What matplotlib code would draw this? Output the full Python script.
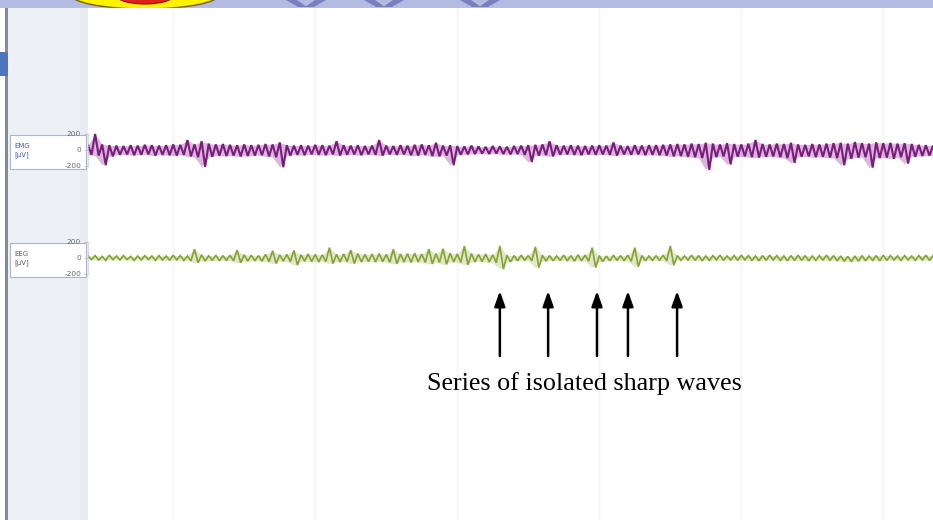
import numpy as np
import matplotlib
matplotlib.use("Agg")
import matplotlib.pyplot as plt
from matplotlib.patches import Rectangle, Ellipse, Polygon

# ---------------- data (µV, one value per 0.25 s) -------------
sample_step = 0.25  # s
emg_hi = [60, 200, 70, 60, 55, 50, 60, 55, 65, 60,
          55, 60, 70, 65, 125, 70, 110, 80, 70, 75,
          65, 60, 70, 60, 65, 75, 70, 95, 60, 55,
          60, 55, 65, 60, 55, 110, 60, 55, 60, 50,
          55, 125, 55, 50, 60, 55, 65, 70, 60, 90,
          55, 60, 50, 45, 55, 45, 40, 50, 45, 40,
          50, 55, 60, 65, 70, 110, 60, 55, 60, 55,
          50, 55, 60, 55, 95, 55, 50, 60, 55, 60,
          60, 65, 70, 75, 70, 80, 75, 90, 80, 70,
          85, 75, 70, 80, 125, 75, 70, 80, 75, 90,
          70, 65, 75, 70, 80, 85, 90, 80, 100, 85,
          80, 95, 85, 90, 80, 85, 75, 65, 60, 55]
emg_lo = [-60, -70, -190, -80, -60, -55, -65, -60, -55, -70,
          -60, -65, -70, -60, -80, -90, -210, -85, -70, -75,
          -70, -80, -75, -70, -65, -80, -90, -215, -70, -60,
          -65, -55, -60, -65, -55, -70, -60, -55, -65, -55,
          -60, -70, -55, -60, -55, -65, -70, -60, -75, -80,
          -70, -190, -60, -55, -50, -45, -50, -45, -50, -55,
          -50, -60, -150, -70, -65, -80, -60, -55, -60, -65,
          -55, -60, -55, -60, -70, -55, -60, -55, -65, -60,
          -65, -70, -80, -75, -85, -90, -100, -250, -90, -80,
          -180, -85, -80, -90, -95, -85, -80, -90, -100, -160,
          -85, -80, -90, -85, -95, -100, -190, -110, -95, -90,
          -220, -100, -95, -110, -90, -170, -85, -75, -70, -65]
eeg_hi = [25, 30, 20, 35, 25, 30, 20, 25, 30, 25,
          30, 25, 35, 30, 25, 110, 40, 30, 35, 30,
          35, 100, 40, 35, 30, 45, 90, 40, 45, 95,
          40, 50, 45, 40, 130, 45, 50, 100, 55, 45,
          50, 55, 45, 110, 50, 55, 60, 50, 110, 55,
          115, 60, 50, 150, 55, 45, 50, 40, 150, 35,
          30, 35, 30, 140, 35, 30, 25, 35, 30, 40,
          35, 130, 30, 25, 35, 30, 35, 130, 30, 25,
          30, 35, 150, 30, 25, 35, 30, 25, 30, 35,
          25, 30, 35, 30, 25, 30, 35, 30, 25, 30,
          35, 30, 25, 30, 35, 30, 25, 20, 25, 30,
          25, 30, 35, 30, 25, 30, 25, 30, 35, 30]
eeg_lo = [-20, -25, -30, -20, -25, -20, -30, -25, -20, -30,
          -25, -30, -25, -30, -35, -60, -40, -30, -35, -30,
          -35, -60, -40, -35, -40, -45, -70, -40, -45, -90,
          -40, -45, -50, -45, -70, -50, -45, -70, -50, -45,
          -50, -45, -55, -75, -50, -55, -50, -55, -75, -55,
          -80, -50, -55, -85, -50, -45, -50, -60, -140, -50,
          -35, -30, -35, -120, -40, -35, -30, -35, -40, -35,
          -40, -120, -45, -35, -30, -35, -40, -110, -35, -30,
          -30, -35, -90, -30, -25, -30, -35, -30, -25, -30,
          -25, -30, -25, -30, -35, -30, -25, -30, -35, -30,
          -30, -35, -30, -25, -30, -35, -40, -45, -40, -35,
          -30, -35, -30, -25, -30, -25, -30, -25, -30, -25]
channel_names = ["EMG", "EEG"]
channel_unit = "[µV]"
channel_ticks = [-200, 0, 200]
grid_times = [3, 8, 13, 18, 23, 28]          # s
arrow_times = [14.5, 16.2, 17.92, 19.01, 20.74]  # s
annotation = "Series of isolated sharp waves"
t_end = 29.75

W, H = 933, 520
fig = plt.figure(figsize=(W / 100, H / 100), dpi=100)

def frac(x0, y0, x1, y1):
    return [x0 / W, 1 - y1 / H, (x1 - x0) / W, (y1 - y0) / H]

# ---------------- background / window chrome ----------------
bg = fig.add_axes([0, 0, 1, 1])
bg.set_xlim(0, W); bg.set_ylim(H, 0); bg.axis("off")
bg.add_patch(Rectangle((0, 0), W, H, fc="white", ec="none"))
bg.add_patch(Rectangle((8, 8), 80, H, fc="#edf1f5", ec="none"))
bg.add_patch(Rectangle((80, 8), 8, H, fc="#e8ecf1", ec="none"))
bg.add_patch(Rectangle((5, 8), 3, H, fc="#868b93", ec="none"))
bg.add_patch(Rectangle((0, 52), 8, 24, fc="#4d76bd", ec="none"))

# top banner strip
top = fig.add_axes(frac(0, 0, W, 8))
top.set_xlim(0, W); top.set_ylim(8, 0); top.axis("off")
top.add_patch(Rectangle((0, 0), W, 8, fc="#b3bbe3", ec="none"))
top.add_patch(Ellipse((145, -6), 150, 30, fc="#fff200", ec="#7a5a10", lw=1))
top.add_patch(Ellipse((145, -4), 56, 16, fc="#e02020", ec="#901010", lw=0.8))
for c in [306, 384, 480]:
    top.add_patch(Polygon([(c - 20, 0), (c - 9, 0), (c + 1, 7), (c - 8, 7)],
                          closed=True, fc="#7076b8", ec="none", alpha=0.85))
    top.add_patch(Polygon([(c + 9, 0), (c + 20, 0), (c + 8, 7), (c - 1, 7)],
                          closed=True, fc="#7076b8", ec="none", alpha=0.85))
top.plot([0, W], [7.5, 7.5], color="#c9cfe9", lw=1)

# ---------------- time area with grid ----------------
main = fig.add_axes(frac(88, 8, W, H))
main.set_xlim(0, t_end); main.set_ylim(H, 8)
main.set_facecolor("none")
for s in main.spines.values():
    s.set_visible(False)
main.set_xticks(grid_times); main.set_yticks([])
main.tick_params(axis="x", length=0, labelbottom=False)
main.grid(axis="x", color="#f4f4f4", lw=1)

# ---------------- channels ----------------
t = np.arange(len(emg_hi)) * sample_step
t_zig = np.ravel(np.column_stack([t, t + sample_step / 2]))

def channel(center_px, hi, lo, color, name, name_color, fill_alpha, lw):
    ax = fig.add_axes(frac(88, center_px - 32, W, center_px + 32))
    ax.set_xlim(0, t_end); ax.set_ylim(-400, 400)
    ax.set_facecolor("none")
    vals = np.ravel(np.column_stack([hi, lo]))
    ax.fill_between(t, lo, hi, color=color, alpha=fill_alpha, lw=0)
    ax.plot(t_zig, vals, color=color, lw=lw, solid_joinstyle="miter")
    for k in ["top", "right", "bottom"]:
        ax.spines[k].set_visible(False)
    ax.spines["left"].set_bounds(-200, 200)
    ax.spines["left"].set_color("#c4c8cf")
    ax.spines["left"].set_linestyle(":")
    ax.spines["left"].set_linewidth(0.6)
    ax.set_xticks([])
    ax.set_yticks(channel_ticks)
    ax.set_yticklabels([str(v) for v in channel_ticks])
    ax.tick_params(axis="y", length=3, width=0.5, color="#b0b4bb", pad=2,
                   labelsize=5.3, labelcolor="#6a6e75")
    # label box
    bg.add_patch(Rectangle((10, center_px - 15), 76, 34, fc="white",
                           ec="#aab4d6", lw=0.8, zorder=1))
    bg.text(14, center_px - 4, name, fontsize=5, color=name_color,
            va="center", ha="left")
    bg.text(14, center_px + 5, channel_unit, fontsize=5, color=name_color,
            va="center", ha="left")
    return ax

channel(150, emg_hi, emg_lo, "#7d1a80", channel_names[0], "#4a58c0", 0.3, 1.5)
channel(258, eeg_hi, eeg_lo, "#86a232", channel_names[1], "#5a5e66", 0.25, 1.2)

# ---------------- arrows + annotation ----------------
for ta in arrow_times:
    main.annotate("", xy=(ta, 291), xytext=(ta, 356),
                  arrowprops=dict(arrowstyle="-|>,head_length=0.9,head_width=0.32",
                                  color="black", lw=1.8, shrinkA=0, shrinkB=0))
main.text(np.mean([arrow_times[0], arrow_times[-1]]) - 0.15, 384, annotation,
          fontsize=18.8, family="Liberation Serif", ha="center", va="center",
          color="black")

fig.savefig("out.png", dpi=100)
